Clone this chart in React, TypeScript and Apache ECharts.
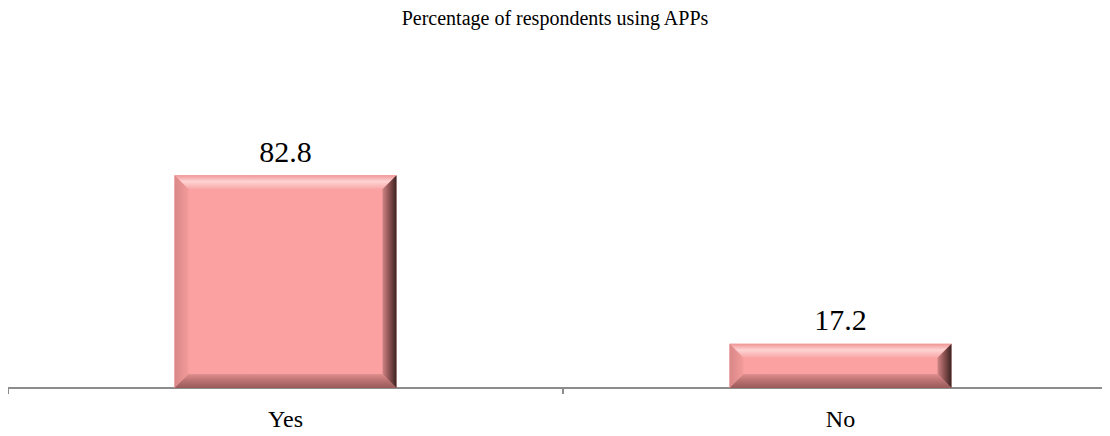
import React, { useEffect, useRef } from "react";
import * as echarts from "echarts";

const categories = ["Yes", "No"];
const values = [82.8, 17.2];
const titleText = "Percentage of respondents using APPs";

const FONT = "Liberation Serif, serif";

function renderBevelBar(params: any, api: any) {
  const idx = api.value(0);
  const val = api.value(1);
  const top = api.coord([idx, val]);
  const base = api.coord([idx, 0]);
  const band = api.size([1, 0])[0];
  const w = band * 0.4;
  const x0 = top[0] - w / 2;
  const x1 = top[0] + w / 2;
  const y0 = top[1];
  const y1 = base[1];
  const h = y1 - y0;
  const b = Math.min(14, h / 2.6);
  const face = "#FCA1A1";
  return {
    type: "group",
    children: [
      { type: "rect", shape: { x: x0, y: y0, width: w, height: h }, style: { fill: face } },
      {
        type: "polygon",
        shape: { points: [[x0, y0], [x1, y0], [x1 - b, y0 + b], [x0 + b, y0 + b]] },
        style: {
          fill: new echarts.graphic.LinearGradient(0, 0, 0, 1, [
            { offset: 0, color: "#F09696" },
            { offset: 0.45, color: "#FFD3D3" },
            { offset: 1, color: "#F8A6A6" },
          ]),
        },
      },
      {
        type: "polygon",
        shape: { points: [[x0, y0], [x0 + b, y0 + b], [x0 + b, y1 - b], [x0, y1]] },
        style: {
          fill: new echarts.graphic.LinearGradient(0, 0, 1, 0, [
            { offset: 0, color: "#D98787" },
            { offset: 1, color: "#F39B9B" },
          ]),
        },
      },
      {
        type: "polygon",
        shape: { points: [[x0, y1], [x0 + b, y1 - b], [x1 - b, y1 - b], [x1, y1]] },
        style: {
          fill: new echarts.graphic.LinearGradient(0, 0, 0, 1, [
            { offset: 0, color: "#E08E8E" },
            { offset: 0.5, color: "#B87070" },
            { offset: 1, color: "#9A5A5A" },
          ]),
        },
      },
      {
        type: "polygon",
        shape: { points: [[x1, y0], [x1, y1], [x1 - b, y1 - b], [x1 - b, y0 + b]] },
        style: {
          fill: new echarts.graphic.LinearGradient(0, 0, 1, 0, [
            { offset: 0, color: "#D08484" },
            { offset: 0.5, color: "#8A5050" },
            { offset: 1, color: "#3A2222" },
          ]),
        },
      },
      {
        type: "text",
        x: top[0],
        y: y0 - 39,
        style: {
          text: String(val),
          fontFamily: FONT,
          fontSize: 30,
          fill: "#000",
          align: "center",
          verticalAlign: "top",
        },
      },
    ],
  };
}

export default function App() {
  const ref = useRef<HTMLDivElement>(null);

  useEffect(() => {
    if (!ref.current) return;
    const chart = echarts.init(ref.current, null, { renderer: "svg" });
    chart.setOption({
      animation: false,
      backgroundColor: "#ffffff",
      graphic: [
        {
          type: "text",
          x: 555,
          y: 8,
          style: {
            text: titleText,
            fontFamily: FONT,
            fontSize: 20,
            fill: "#000",
            align: "center",
            verticalAlign: "top",
          },
        },
      ],
      grid: { left: 8, right: 8, top: 131, bottom: 48, containLabel: false },
      xAxis: {
        type: "category",
        data: categories,
        axisLine: { lineStyle: { color: "#8C8C8C", width: 2 } },
        axisTick: { show: true, length: 6, lineStyle: { color: "#8C8C8C", width: 2 } },
        axisLabel: { fontFamily: FONT, fontSize: 24, color: "#000", margin: 19 },
      },
      yAxis: { type: "value", min: 0, max: 100, show: false },
      series: [
        {
          type: "custom",
          renderItem: renderBevelBar,
          data: values.map((v, i) => [i, v]),
          encode: { x: 0, y: 1 },
          clip: false,
        },
      ],
    });
    return () => chart.dispose();
  }, []);

  return (
    <div style={{ width: 1110, height: 436, overflow: "hidden", margin: -8, position: "relative" }}>
      <div ref={ref} style={{ width: 1126, height: 436 }} />
    </div>
  );
}
